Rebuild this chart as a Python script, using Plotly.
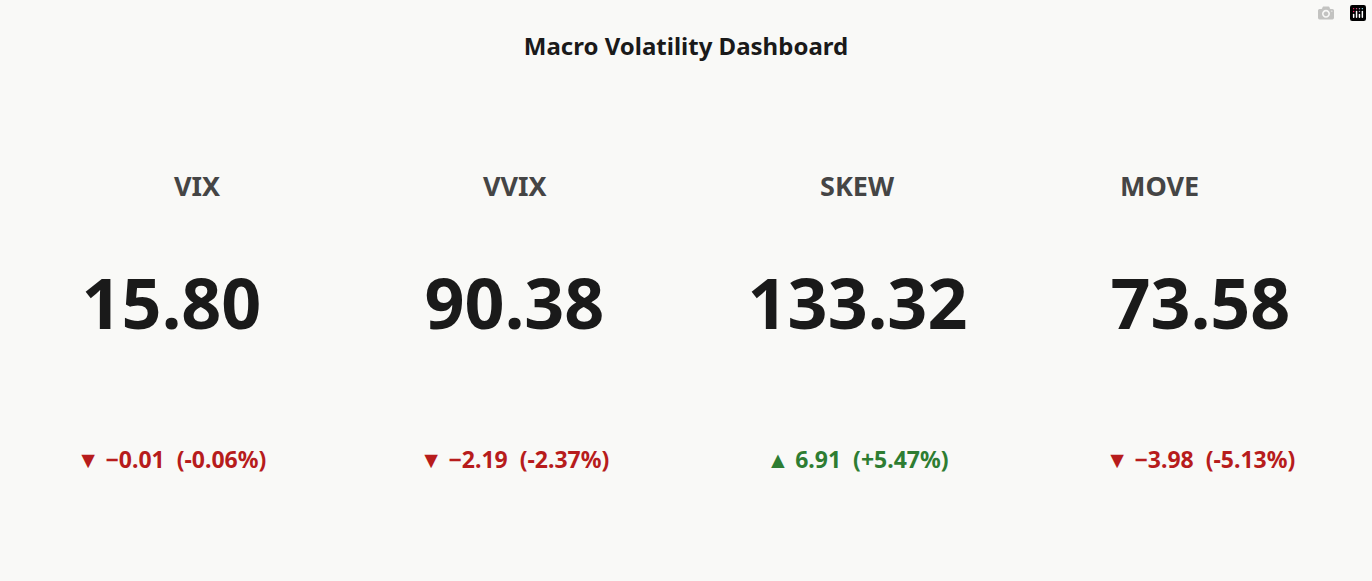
import plotly.graph_objects as go

names = ["VIX", "VVIX", "SKEW", "MOVE"]
values = [15.80, 90.38, 133.32, 73.58]
changes = [-0.01, -2.19, 6.91, -3.98]
pct_changes = [-0.06, -2.37, 5.47, -5.13]

FONT = "Noto Sans"
UP = "#2e7d32"
DOWN = "#b71c1c"

fig = go.Figure()
n = len(names)
for i, (name, val, ch, pc) in enumerate(zip(names, values, changes, pct_changes)):
    x0, x1 = i / n, (i + 1) / n
    # headline value
    fig.add_trace(go.Indicator(
        mode="number", value=val,
        number=dict(valueformat=".2f", font=dict(size=70, color="#1a1a1a", family=FONT, weight="bold")),
        domain=dict(x=[x0, x1], y=[0.36, 0.60]),
    ))
    # change line
    col = UP if ch >= 0 else DOWN
    arrow = "▲ " if ch >= 0 else "▼ "
    fig.add_trace(go.Indicator(
        mode="number", value=ch,
        number=dict(valueformat="+.2f", prefix=arrow, suffix=f"  ({pc:+.2f}%)",
                    font=dict(size=23, color=col, family=FONT, weight="bold")),
        domain=dict(x=[x0, x1], y=[0.16, 0.26]),
    ))
    fig.add_annotation(x=(x0 + x1) / 2, y=1 - 165 / 581, xref="paper", yref="paper", showarrow=False,
                       text=f"<b>{name}</b>", font=dict(size=27, color="#454545", family=FONT))

fig.update_layout(
    width=1372, height=581,
    margin=dict(l=0, r=0, t=0, b=0),
    paper_bgcolor="#f9f9f7", plot_bgcolor="#f9f9f7",
    title=dict(text="<b>Macro Volatility Dashboard</b>", x=0.5, xanchor="center",
               y=1 - 47 / 581, yanchor="middle",
               font=dict(size=24, color="#1a1a1a", family=FONT)),
)

fig.write_html("out.html", post_script="document.body.style.margin='0';")
